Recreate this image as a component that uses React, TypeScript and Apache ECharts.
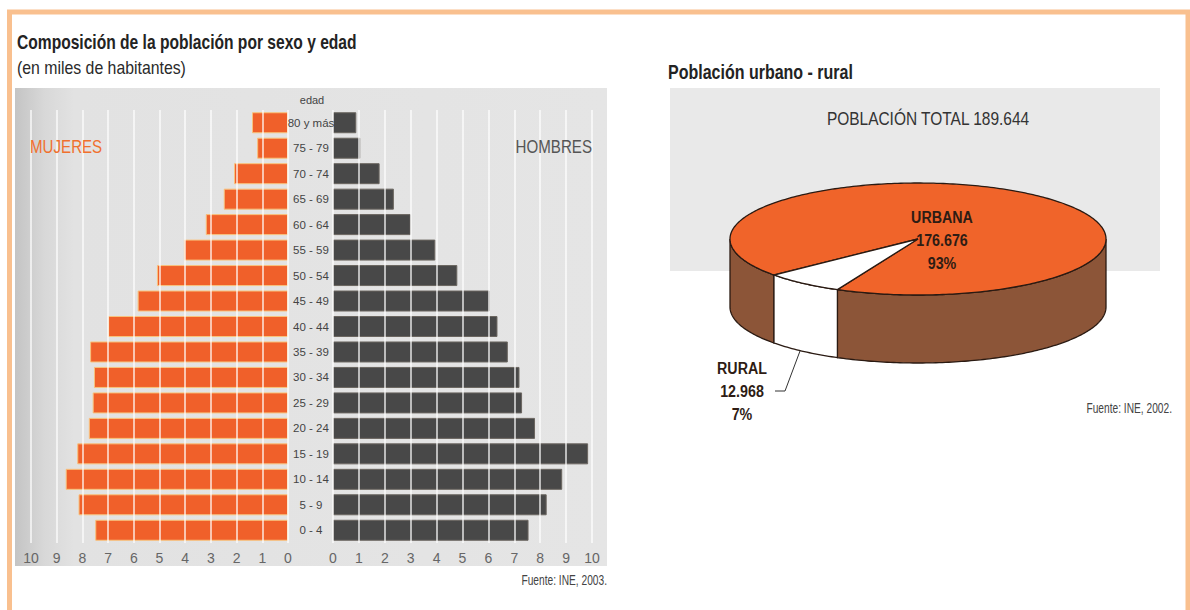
import React, { useEffect, useRef } from 'react';
import * as echarts from 'echarts';

// ---------- DATA ----------
const ageGroups = ['0 - 4', '5 - 9', '10 - 14', '15 - 19', '20 - 24', '25 - 29', '30 - 34', '35 - 39', '40 - 44', '45 - 49', '50 - 54', '55 - 59', '60 - 64', '65 - 69', '70 - 74', '75 - 79', '80 y más'];
const mujeres = [7.5, 8.15, 8.65, 8.2, 7.75, 7.6, 7.55, 7.7, 7.0, 5.85, 5.1, 4.05, 3.2, 2.5, 2.1, 1.2, 1.4];
const hombres = [7.55, 8.25, 8.85, 9.85, 7.8, 7.3, 7.2, 6.75, 6.35, 6.05, 4.8, 3.95, 3.0, 2.35, 1.8, 1.05, 0.9];
const axisMin = 0;
const axisMax = 10;
const axisInterval = 1;

const pieNames = ['URBANA', 'RURAL'];
const pieValues = [176676, 12968];
const pieTopColors = ['#f0642a', '#ffffff'];
const pieSideColors = ['#8c5538', '#ffffff'];

const FONT = '"Liberation Sans", Arial, sans-serif';

const fmtThousands = (v: number) => String(v).replace(/\B(?=(\d{3})+(?!\d))/g, '.');

// pie geometry (layout, not data)
const PIE = { cx: 918, cy: 239, rx: 188, ry: 56, depth: 68, start: 140 };

function txt(text: string, x: number, y: number, size: number, color: string, opts: any = {}) {
  const align = opts.align || 'left';
  return {
    type: 'text',
    z: 20,
    x,
    y,
    scaleX: opts.sx || 1,
    style: {
      text,
      x: 0,
      y: 0,
      fill: color,
      fontSize: size,
      fontFamily: FONT,
      fontWeight: opts.bold ? 'bold' : 'normal',
      align,
      textAlign: align,
      verticalAlign: 'middle',
      textVerticalAlign: 'middle',
    },
  };
}

export default function App() {
  const ref = useRef<HTMLDivElement>(null);

  useEffect(() => {
    if (!ref.current) return;
    const chart = echarts.init(ref.current, undefined, { renderer: 'svg' });
    const total = pieValues.reduce((a, b) => a + b, 0);

    const renderPie = (params: any, api: any) => {
      const i = params.dataIndex;
      let before = 0;
      for (let k = 0; k < i; k++) before += pieValues[k];
      const a0 = PIE.start + (before / total) * 360;
      const a1 = a0 + ((api.value(0) as number) / total) * 360;
      const pt = (deg: number, dy: number) => [
        PIE.cx + PIE.rx * Math.cos((deg * Math.PI) / 180),
        PIE.cy + PIE.ry * Math.sin((deg * Math.PI) / 180) + dy,
      ];
      const arc = (from: number, to: number, dy: number) => {
        const n = Math.max(2, Math.ceil(Math.abs(to - from)));
        const pts: number[][] = [];
        for (let j = 0; j <= n; j++) pts.push(pt(from + ((to - from) * j) / n, dy));
        return pts;
      };
      const children: any[] = [];
      for (let k = 0; k < 3; k++) {
        const lo = Math.max(a0, 360 * k);
        const hi = Math.min(a1, 360 * k + 180);
        if (hi > lo) {
          children.push({
            type: 'polygon',
            shape: { points: [...arc(lo, hi, 0), ...arc(hi, lo, PIE.depth)] },
            style: { fill: pieSideColors[i], stroke: '#2a1a12', lineWidth: 1.3 },
          });
        }
      }
      children.push({
        type: 'polygon',
        shape: { points: [[PIE.cx, PIE.cy], ...arc(a0, a1, 0)] },
        style: { fill: pieTopColors[i], stroke: '#2a1a12', lineWidth: 1.3 },
      });
      return { type: 'group', children };
    };

    const pieLabels: any[] = [];
    const labelPos = [
      { x: 942, y: 217 },
      { x: 742, y: 368 },
    ];
    pieValues.forEach((v, i) => {
      const p = labelPos[i];
      const pct = Math.round((v / total) * 100) + '%';
      pieLabels.push(txt(pieNames[i], p.x, p.y, 17, '#2e1c14', { bold: true, align: 'center', sx: 0.84 }));
      pieLabels.push(txt(fmtThousands(v), p.x, p.y + 23, 17, '#2e1c14', { bold: true, align: 'center', sx: 0.84 }));
      pieLabels.push(txt(pct, p.x, p.y + 46, 17, '#2e1c14', { bold: true, align: 'center', sx: 0.84 }));
    });

    const option: any = {
      animation: false,
      backgroundColor: '#ffffff',
      grid: [
        { left: 31, top: 110, width: 257, height: 433 },
        { left: 333, top: 110, width: 259, height: 433 },
      ],
      xAxis: [
        {
          type: 'value', gridIndex: 0, min: axisMin, max: axisMax, interval: axisInterval, inverse: true, z: 5,
          axisLine: { show: false }, axisTick: { show: false },
          splitLine: { show: true, lineStyle: { color: 'rgba(255,255,255,0.85)', width: 1.5 } },
          axisLabel: { color: '#666', fontSize: 14, fontFamily: FONT, margin: 8 },
        },
        {
          type: 'value', gridIndex: 1, min: axisMin, max: axisMax, interval: axisInterval, z: 5,
          axisLine: { show: false }, axisTick: { show: false },
          splitLine: { show: true, lineStyle: { color: 'rgba(255,255,255,0.85)', width: 1.5 } },
          axisLabel: { color: '#666', fontSize: 14, fontFamily: FONT, margin: 8 },
        },
      ],
      yAxis: [
        {
          type: 'category', gridIndex: 0, data: ageGroups,
          axisLine: { show: false }, axisTick: { show: false }, axisLabel: { show: false },
        },
        {
          type: 'category', gridIndex: 1, data: ageGroups, z: 6,
          axisLine: { show: false }, axisTick: { show: false },
          axisLabel: { show: true, align: 'center', margin: 22, color: '#444', fontSize: 11.5, fontFamily: FONT },
        },
      ],
      series: [
        {
          name: 'Mujeres', type: 'bar', xAxisIndex: 0, yAxisIndex: 0, data: mujeres, barWidth: 21,
          itemStyle: { color: '#f0602a', borderColor: '#f9c27c', borderWidth: 1 },
        },
        {
          name: 'Hombres', type: 'bar', xAxisIndex: 1, yAxisIndex: 1, data: hombres, barWidth: 21,
          itemStyle: { color: '#484848', borderColor: '#6b6660', borderWidth: 1 },
        },
        {
          type: 'custom', coordinateSystem: 'none', renderItem: renderPie, z: 4,
          data: pieValues.map((v, i) => ({ value: v, name: pieNames[i] })),
        },
      ],
      graphic: {
        elements: [
          {
            type: 'rect', z: -10, shape: { x: 15, y: 88, width: 592, height: 478 },
            style: {
              fill: new echarts.graphic.LinearGradient(0, 0, 1, 0, [
                { offset: 0, color: '#c4c4c4' },
                { offset: 0.05, color: '#d8d8d8' },
                { offset: 0.1, color: '#e2e2e2' },
                { offset: 1, color: '#e5e5e5' },
              ]),
            },
          },
          {
            type: 'rect', z: -10, shape: { x: 670, y: 88, width: 490, height: 183 },
            style: { fill: '#e9e9e9' },
          },
          {
            type: 'rect', z: 30, shape: { x: 9.5, y: 12, width: 1178.5, height: 620 },
            style: { fill: 'none', stroke: '#f9c08f', lineWidth: 5 },
          },
          txt('Composición de la población por sexo y edad', 17, 42, 20, '#232323', { bold: true, sx: 0.78 }),
          txt('(en miles de habitantes)', 17, 68, 18, '#2a2a2a', { sx: 0.88 }),
          txt('edad', 312, 100, 11, '#444', { align: 'center' }),
          txt('MUJERES', 30, 147, 18, '#f0702e', { sx: 0.84 }),
          txt('HOMBRES', 592, 147, 18, '#555', { align: 'right', sx: 0.84 }),
          txt('Fuente: INE, 2003.', 607, 580, 15, '#444', { align: 'right', sx: 0.68 }),
          txt('Población urbano - rural', 668, 72, 20, '#232323', { bold: true, sx: 0.8 }),
          txt('POBLACIÓN TOTAL 189.644', 928, 119, 18, '#333', { align: 'center', sx: 0.86 }),
          txt('Fuente: INE, 2002.', 1172, 408, 15, '#444', { align: 'right', sx: 0.68 }),
          {
            type: 'polyline', z: 20,
            shape: { points: [[775, 391], [785, 391], [800, 351]] },
            style: { stroke: '#333', lineWidth: 1, fill: 'none' },
          },
          ...pieLabels,
        ],
      },
    };

    chart.setOption(option);
    return () => chart.dispose();
  }, []);

  return (
    <div
      ref={ref}
      style={{ position: 'absolute', left: 0, top: 0, width: 1190, height: 610, background: '#fff' }}
    />
  );
}
